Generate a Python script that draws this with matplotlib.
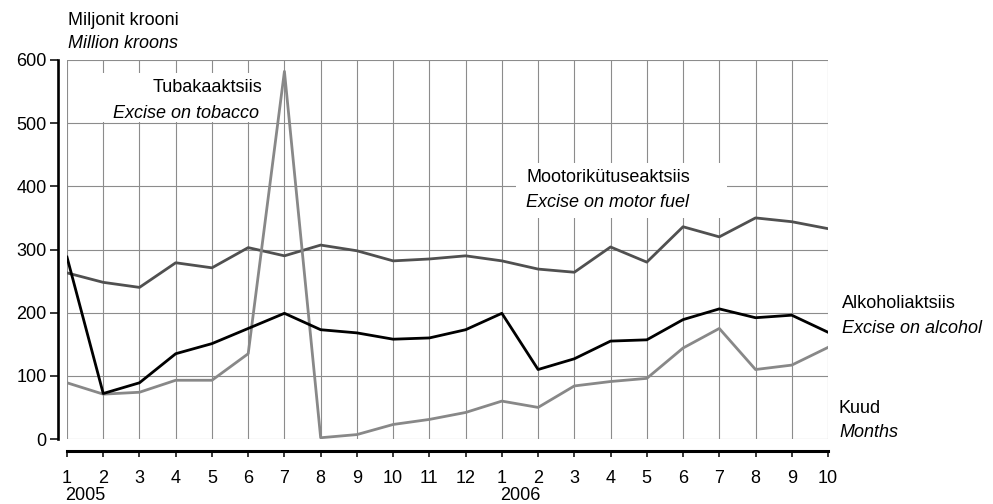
import matplotlib
matplotlib.use("Agg")
import matplotlib.pyplot as plt
import matplotlib.patches as mpatches

plt.rcParams['font.family'] = ['Liberation Sans', 'DejaVu Sans']

# ---- data ----
months = ["1", "2", "3", "4", "5", "6", "7", "8", "9", "10", "11", "12",
          "1", "2", "3", "4", "5", "6", "7", "8", "9", "10"]
years = ["2005", "2006"]
year_start_idx = [0, 12]

motor_fuel = [263, 248, 240, 279, 271, 303, 290, 307, 298, 282, 285, 290,
              282, 269, 264, 304, 280, 336, 320, 350, 344, 333]
alcohol = [288, 72, 89, 135, 151, 175, 199, 173, 168, 158, 160, 173,
           199, 110, 127, 155, 157, 189, 206, 192, 196, 169]
tobacco = [89, 71, 74, 93, 93, 135, 582, 2, 7, 23, 31, 42,
           60, 50, 84, 91, 96, 144, 175, 110, 117, 145]

yticks = [0, 100, 200, 300, 400, 500, 600]

W, H = 993, 504
fig = plt.figure(figsize=(W / 100, H / 100), dpi=100)
ax = fig.add_axes([67 / W, 1 - 439 / H, (828 - 67) / W, (439 - 60) / H])

x = list(range(len(months)))
FS = 13

ax.plot(x, motor_fuel, color='#505050', lw=2.0, zorder=3)
ax.plot(x, tobacco, color='#888888', lw=2.0, zorder=3)
ax.plot(x, alcohol, color='#000000', lw=2.0, zorder=4)

ax.set_xlim(0, len(months) - 1)
ax.set_ylim(0, 600)

for s in ['top', 'right']:
    ax.spines[s].set_visible(False)
ax.spines['left'].set_position(('outward', 6.2))
ax.spines['left'].set_linewidth(1.9)
ax.spines['bottom'].set_position(('outward', 8.3))
ax.spines['bottom'].set_linewidth(2.2)
ax.tick_params(axis='y', length=6.0, width=1.1, pad=2.5, colors='black', labelsize=FS)
ax.tick_params(axis='x', length=4.5, width=1.1, pad=9.5, colors='black', labelsize=FS)

ax.set_xticks(x)
ax.set_xticklabels(months)
ax.set_yticks(yticks)
ax.set_yticklabels([str(v) for v in yticks])

ax.grid(True, color='#8c8c8c', lw=0.8)
ax.set_axisbelow(True)

# white label backgrounds
def px_rect(x0, y0, x1, y1):
    return mpatches.Rectangle((x0 / W, 1 - y1 / H), (x1 - x0) / W, (y1 - y0) / H,
                              transform=fig.transFigure, facecolor='white',
                              edgecolor='none', zorder=1)

ax.add_patch(px_rect(95, 73, 272, 122))
ax.add_patch(px_rect(516, 163, 727, 218))

def ftext(px, py, s, italic=False):
    fig.text(px / W, 1 - py / H, s, fontsize=FS, ha='left', va='baseline',
             style='italic' if italic else 'normal', zorder=5)

ftext(68, 25, "Miljonit krooni")
ftext(68, 48.5, "Million kroons", True)
ftext(153, 92.3, "Tubakaaktsiis")
ftext(113, 118.3, "Excise on tobacco", True)
ftext(526.5, 181.7, "Mootorikütuseaktsiis")
ftext(526.5, 206.7, "Excise on motor fuel", True)
ftext(841.5, 308.3, "Alkoholiaktsiis")
ftext(841.5, 332.7, "Excise on alcohol", True)
ftext(839, 412.7, "Kuud")
ftext(839, 437.3, "Months", True)

# year labels under first month of each year
for yr, idx in zip(years, year_start_idx):
    ax.annotate(yr, xy=(idx, 0), xycoords=('data', 'axes fraction'),
                xytext=(-1.5, -43.8), textcoords='offset points',
                ha='left', va='baseline', fontsize=FS, annotation_clip=False)

fig.savefig("out.png", dpi=100)
